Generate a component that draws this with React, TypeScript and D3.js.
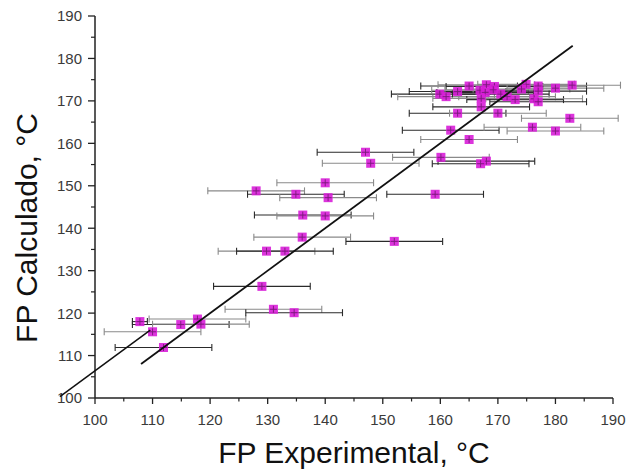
import React from "react";
import * as d3 from "d3";

// Experimental FP (x), calculated FP (y), horizontal error (±), bar colour kind (0 = black, 1 = grey)
const expX = [
  107.8, 110.0, 114.9, 117.8, 118.4, 111.9,
  129.0, 131.0, 134.6, 129.8, 133.0, 136.0, 152.0,
  136.1, 140.0, 128.0, 134.9, 140.5, 159.1, 140.0,
  147.0, 147.9, 160.1, 168.0, 167.0, 165.0, 161.8,
  176.0, 180.0, 182.5, 163.0, 170.0,
  165.0, 168.0, 169.4, 174.9, 177.0, 180.0, 182.9,
  159.9, 161.0, 163.0, 166.9, 167.8, 169.2, 170.5, 171.6, 173.0, 174.1,
  177.0, 176.3, 177.0, 167.1, 167.1,
];
const calcY = [
  118.0, 115.6, 117.3, 118.6, 117.4, 111.9,
  126.3, 120.9, 120.1, 134.6, 134.6, 137.9, 136.9,
  143.1, 142.9, 148.8, 148.0, 147.2, 148.0, 150.7,
  157.9, 155.3, 156.7, 155.8, 155.2, 160.9, 163.1,
  163.8, 162.9, 165.9, 167.1, 167.1,
  173.5, 173.8, 173.4, 173.9, 173.5, 173.0, 173.7,
  171.6, 171.0, 172.2, 172.5, 172.0, 172.6, 171.6, 171.0, 170.3, 172.8,
  172.3, 170.5, 169.8, 170.6, 168.6,
];
const errX = [
  1.3, 8.4, 8.4, 8.4, 8.4, 8.4,
  8.4, 8.4, 8.4, 8.4, 8.4, 8.4, 8.4,
  8.4, 8.4, 8.4, 8.4, 8.4, 8.4, 8.4,
  8.4, 8.4, 8.4, 8.4, 8.4, 8.4, 8.4,
  8.4, 8.4, 8.4, 8.4, 8.4,
  8.4, 8.4, 8.4, 8.4, 8.4, 8.4, 8.4,
  8.4, 8.4, 8.4, 8.4, 8.4, 8.4, 8.4, 8.4, 8.4, 8.4,
  8.4, 8.4, 8.4, 8.4, 8.4,
];
const barKind = [
  0, 1, 0, 1, 1, 0,
  0, 1, 0, 1, 0, 1, 0,
  0, 1, 1, 0, 1, 0, 1,
  0, 1, 1, 0, 0, 1, 0,
  1, 1, 1, 0, 1,
  0, 1, 0, 1, 0, 1, 1,
  0, 1, 0, 1, 0, 1, 0, 1, 0, 1,
  0, 1, 0, 1, 0,
];

// Fit lines (data coordinates)
const mainLine: [number, number][] = [[108, 108], [183, 183]];
const sideLine: [number, number][] = [[93.9, 100.3], [109.6, 116.0]];

const xTicks = [100, 110, 120, 130, 140, 150, 160, 170, 180, 190];
const yTicks = [100, 110, 120, 130, 140, 150, 160, 170, 180, 190];
const minorTicks = [105, 115, 125, 135, 145, 155, 165, 175, 185];

const xTitle = "FP Experimental, °C";
const yTitle = "FP Calculado, °C";

export default function App() {
  const W = 629, H = 473;
  const x = d3.scaleLinear().domain([100, 190]).range([95, 613]);
  const y = d3.scaleLinear().domain([100, 190]).range([398, 16]);
  const line = d3.line<[number, number]>().x(d => x(d[0])).y(d => y(d[1]));
  const font = "'Liberation Sans', Arial, sans-serif";
  const pts = expX.map((v, i) => ({ x: v, y: calcY[i], e: errX[i], k: barKind[i] }));
  const barColor = (k: number) => (k === 0 ? "#2a2a2a" : "#8a8a8a");
  const sq = 9;

  return (
    <div style={{ position: "absolute", left: 0, top: 0 }}>
      <svg width={W} height={H} style={{ display: "block", background: "#fff" }}>
        <rect x={0} y={0} width={W} height={H} fill="#fff" />
        {/* axes */}
        <line x1={x(100)} x2={x(190)} y1={y(100)} y2={y(100)} stroke="#222" strokeWidth={1.5} />
        <line x1={x(100)} x2={x(100)} y1={y(100)} y2={y(190)} stroke="#222" strokeWidth={1.5} />
        {xTicks.map(t => (
          <g key={"xt" + t}>
            <line x1={x(t)} x2={x(t)} y1={y(100)} y2={y(100) + 6} stroke="#222" strokeWidth={1.3} />
            <text x={x(t)} y={425} textAnchor="middle" fontFamily={font} fontSize={15} fill="#3a3a3a">{t}</text>
          </g>
        ))}
        {minorTicks.map(t => (
          <line key={"xm" + t} x1={x(t)} x2={x(t)} y1={y(100)} y2={y(100) + 3.5} stroke="#222" strokeWidth={1.2} />
        ))}
        {yTicks.map(t => (
          <g key={"yt" + t}>
            <line x1={x(100) - 7} x2={x(100)} y1={y(t)} y2={y(t)} stroke="#222" strokeWidth={1.3} />
            <text x={82} y={y(t)} dy="0.36em" textAnchor="end" fontFamily={font} fontSize={15} fill="#3a3a3a">{t}</text>
          </g>
        ))}
        {minorTicks.map(t => (
          <line key={"ym" + t} x1={x(100) - 4} x2={x(100)} y1={y(t)} y2={y(t)} stroke="#222" strokeWidth={1.2} />
        ))}
        {/* error bars */}
        {pts.map((p, i) => {
          const c = barColor(p.k);
          const yy = y(p.y);
          return (
            <g key={"eb" + i} stroke={c} strokeWidth={1.1}>
              <line x1={x(p.x - p.e)} x2={x(p.x + p.e)} y1={yy} y2={yy} />
              <line x1={x(p.x - p.e)} x2={x(p.x - p.e)} y1={yy - 3.5} y2={yy + 3.5} />
              <line x1={x(p.x + p.e)} x2={x(p.x + p.e)} y1={yy - 3.5} y2={yy + 3.5} />
            </g>
          );
        })}
        {/* markers */}
        {pts.map((p, i) => (
          <g key={"pt" + i}>
            <rect x={x(p.x) - sq / 2} y={y(p.y) - sq / 2} width={sq} height={sq} fill="#d81ed8" fillOpacity={0.9} />
            <line x1={x(p.x) - sq / 2 + 1} x2={x(p.x) + sq / 2 - 1} y1={y(p.y)} y2={y(p.y)} stroke="#7a187a" strokeWidth={0.9} />
            <line x1={x(p.x)} x2={x(p.x)} y1={y(p.y) - sq / 2 + 1} y2={y(p.y) + sq / 2 - 1} stroke="#7a187a" strokeWidth={0.9} />
          </g>
        ))}
        {/* fit lines */}
        <path d={line(mainLine) || ""} stroke="#111" strokeWidth={1.8} fill="none" />
        <path d={line(sideLine) || ""} stroke="#111" strokeWidth={1.5} fill="none" />
        {/* titles */}
        <text x={354} y={463} textAnchor="middle" fontFamily={font} fontSize={30} fill="#111">{xTitle}</text>
        <text transform={`translate(37, 228) rotate(-90)`} textAnchor="middle" fontFamily={font} fontSize={30} fill="#111">{yTitle}</text>
      </svg>
    </div>
  );
}
